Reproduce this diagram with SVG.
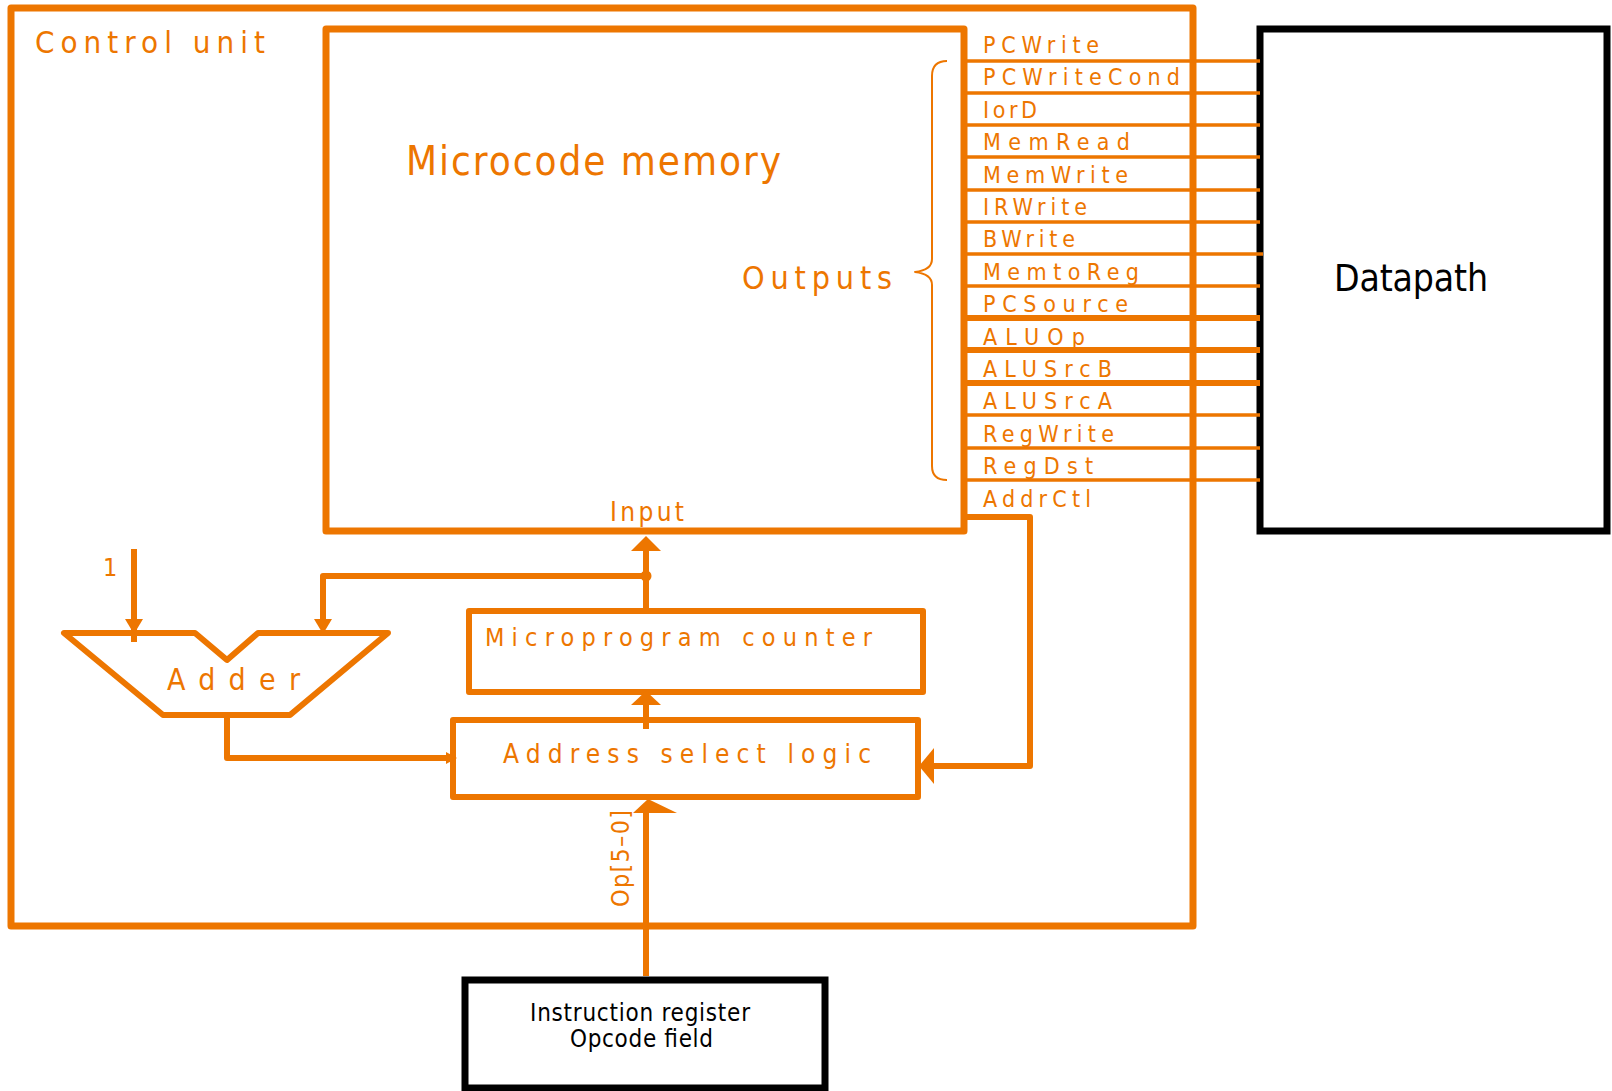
<svg xmlns="http://www.w3.org/2000/svg" width="1612" height="1091" viewBox="0 0 1612 1091">
<style>
.o{fill:none;stroke:#ED7600;stroke-linejoin:round}
.b{fill:#fff;stroke:#000;stroke-width:7}
.ah{fill:#ED7600;stroke:none}
.t{fill:#ED7600;font-family:"DejaVu Sans Condensed","DejaVu Sans",sans-serif}
.k{fill:#000;font-family:"DejaVu Sans Condensed","DejaVu Sans",sans-serif}
.sig{font-size:23px}
.thin{stroke-width:3.5}
.thick{stroke-width:6}
</style>
<rect width="1612" height="1091" fill="#fff"/>
<g id="control-unit">
<rect class="o" x="11" y="8" width="1182" height="918" stroke-width="7"/>
<text class="t" x="35" y="53" font-size="31" textLength="230" lengthAdjust="spacing">Control unit</text>
</g>
<g id="microcode-memory">
<rect class="o" x="326" y="29" width="638" height="502" stroke-width="7"/>
<text class="t" x="406" y="175" font-size="40" textLength="375" lengthAdjust="spacing">Microcode memory</text>
<text class="t" x="742" y="289" font-size="32" textLength="150" lengthAdjust="spacing">Outputs</text>
<path class="o" stroke-width="2" d="M947,61 Q932,61 932,76 L932,259 Q932,270 915,272 Q932,274 932,285 L932,466 Q932,480 947,480"/>
<text class="t" x="610" y="521" font-size="26" textLength="74" lengthAdjust="spacing">Input</text>
</g>
<g id="datapath">
<rect class="b" x="1260" y="29" width="347" height="502"/>
<text class="k" x="1334" y="291" font-size="37" textLength="154" lengthAdjust="spacing">Datapath</text>
</g>
<g id="signals">
<text class="t sig" x="983" y="53" textLength="116" lengthAdjust="spacing">PCWrite</text>
<text class="t sig" x="983" y="85.4" textLength="197" lengthAdjust="spacing">PCWriteCond</text>
<text class="t sig" x="983" y="117.8" textLength="54" lengthAdjust="spacing">IorD</text>
<text class="t sig" x="983" y="150.2" textLength="147" lengthAdjust="spacing">MemRead</text>
<text class="t sig" x="983" y="182.6" textLength="145" lengthAdjust="spacing">MemWrite</text>
<text class="t sig" x="983" y="215" textLength="104" lengthAdjust="spacing">IRWrite</text>
<text class="t sig" x="983" y="247.4" textLength="92" lengthAdjust="spacing">BWrite</text>
<text class="t sig" x="983" y="279.8" textLength="156" lengthAdjust="spacing">MemtoReg</text>
<text class="t sig" x="983" y="312.2" textLength="145" lengthAdjust="spacing">PCSource</text>
<text class="t sig" x="983" y="344.6" textLength="102" lengthAdjust="spacing">ALUOp</text>
<text class="t sig" x="983" y="377" textLength="129" lengthAdjust="spacing">ALUSrcB</text>
<text class="t sig" x="983" y="409.4" textLength="129" lengthAdjust="spacing">ALUSrcA</text>
<text class="t sig" x="983" y="441.8" textLength="131" lengthAdjust="spacing">RegWrite</text>
<text class="t sig" x="983" y="474.2" textLength="110" lengthAdjust="spacing">RegDst</text>
<text class="t sig" x="983" y="506.6" textLength="108" lengthAdjust="spacing">AddrCtl</text>
</g>
<g id="adder">
<polygon class="o" stroke-width="6" points="64,633 195,633 227,660 258,633 388,633 290,715 163,715"/>
<text class="t" x="167" y="690" font-size="30" textLength="133" lengthAdjust="spacing">Adder</text>
<text class="t" x="103" y="576" font-size="25">1</text>
</g>
<g id="microprogram-counter">
<rect class="o" x="469" y="611" width="454" height="81" stroke-width="6"/>
<text class="t" x="485" y="646" font-size="25" textLength="387" lengthAdjust="spacing">Microprogram counter</text>
</g>
<g id="address-select-logic">
<rect class="o" x="453" y="720" width="465" height="77" stroke-width="6"/>
<text class="t" x="503" y="763" font-size="26" textLength="368" lengthAdjust="spacing">Address select logic</text>
</g>
<g id="instruction-register">
<rect class="b" x="465" y="980" width="360" height="108"/>
<text class="k" x="530" y="1021" font-size="24" textLength="220" lengthAdjust="spacing">Instruction register</text>
<text class="k" x="570" y="1047" font-size="24" textLength="143" lengthAdjust="spacing">Opcode field</text>
</g>
<g id="connectors">
<line class="o thin" x1="964" y1="61" x2="1260" y2="61"/>
<line class="o thin" x1="964" y1="93" x2="1260" y2="93"/>
<line class="o thin" x1="964" y1="125" x2="1260" y2="125"/>
<line class="o thin" x1="964" y1="157" x2="1260" y2="157"/>
<line class="o thin" x1="964" y1="190" x2="1260" y2="190"/>
<line class="o thin" x1="964" y1="222" x2="1260" y2="222"/>
<line class="o thin" x1="964" y1="254" x2="1263" y2="254"/>
<line class="o thin" x1="964" y1="286" x2="1260" y2="286"/>
<line class="o thick" x1="964" y1="318" x2="1260" y2="318"/>
<line class="o thick" x1="964" y1="350" x2="1260" y2="350"/>
<line class="o thick" x1="964" y1="383" x2="1260" y2="383"/>
<line class="o thin" x1="964" y1="415" x2="1260" y2="415"/>
<line class="o thin" x1="964" y1="448" x2="1260" y2="448"/>
<line class="o thin" x1="964" y1="480" x2="1260" y2="480"/>
<polyline class="o thick" points="964,517 1030,517 1030,766 934,766"/>
<polygon class="ah" points="934,748 919,766 934,784"/>
<line class="o thick" x1="134" y1="549" x2="134" y2="642"/>
<polygon class="ah" points="125,619 143,619 134,634"/>
<polyline class="o thick" points="646,576 323,576 323,622"/>
<polygon class="ah" points="314,619 332,619 323,634"/>
<circle cx="646" cy="576" r="5.5" fill="#ED7600"/>
<line class="o thick" x1="646" y1="608" x2="646" y2="548"/>
<polygon class="ah" points="631,551 661,551 646,536"/>
<line class="o thick" x1="646" y1="729" x2="646" y2="700"/>
<polygon class="ah" points="631,705 661,705 646,691"/>
<polyline class="o thick" points="227,715 227,758 448,758"/>
<polygon class="ah" points="446,752 457,758 446,764"/>
<line class="o thick" x1="646" y1="976" x2="646" y2="808"/>
<polygon class="ah" points="633,813 648,799 677,813"/>
<text class="t" transform="translate(629,907) rotate(-90)" x="0" y="0" font-size="25" textLength="97" lengthAdjust="spacing">Op[5–0]</text>
</g>
</svg>
